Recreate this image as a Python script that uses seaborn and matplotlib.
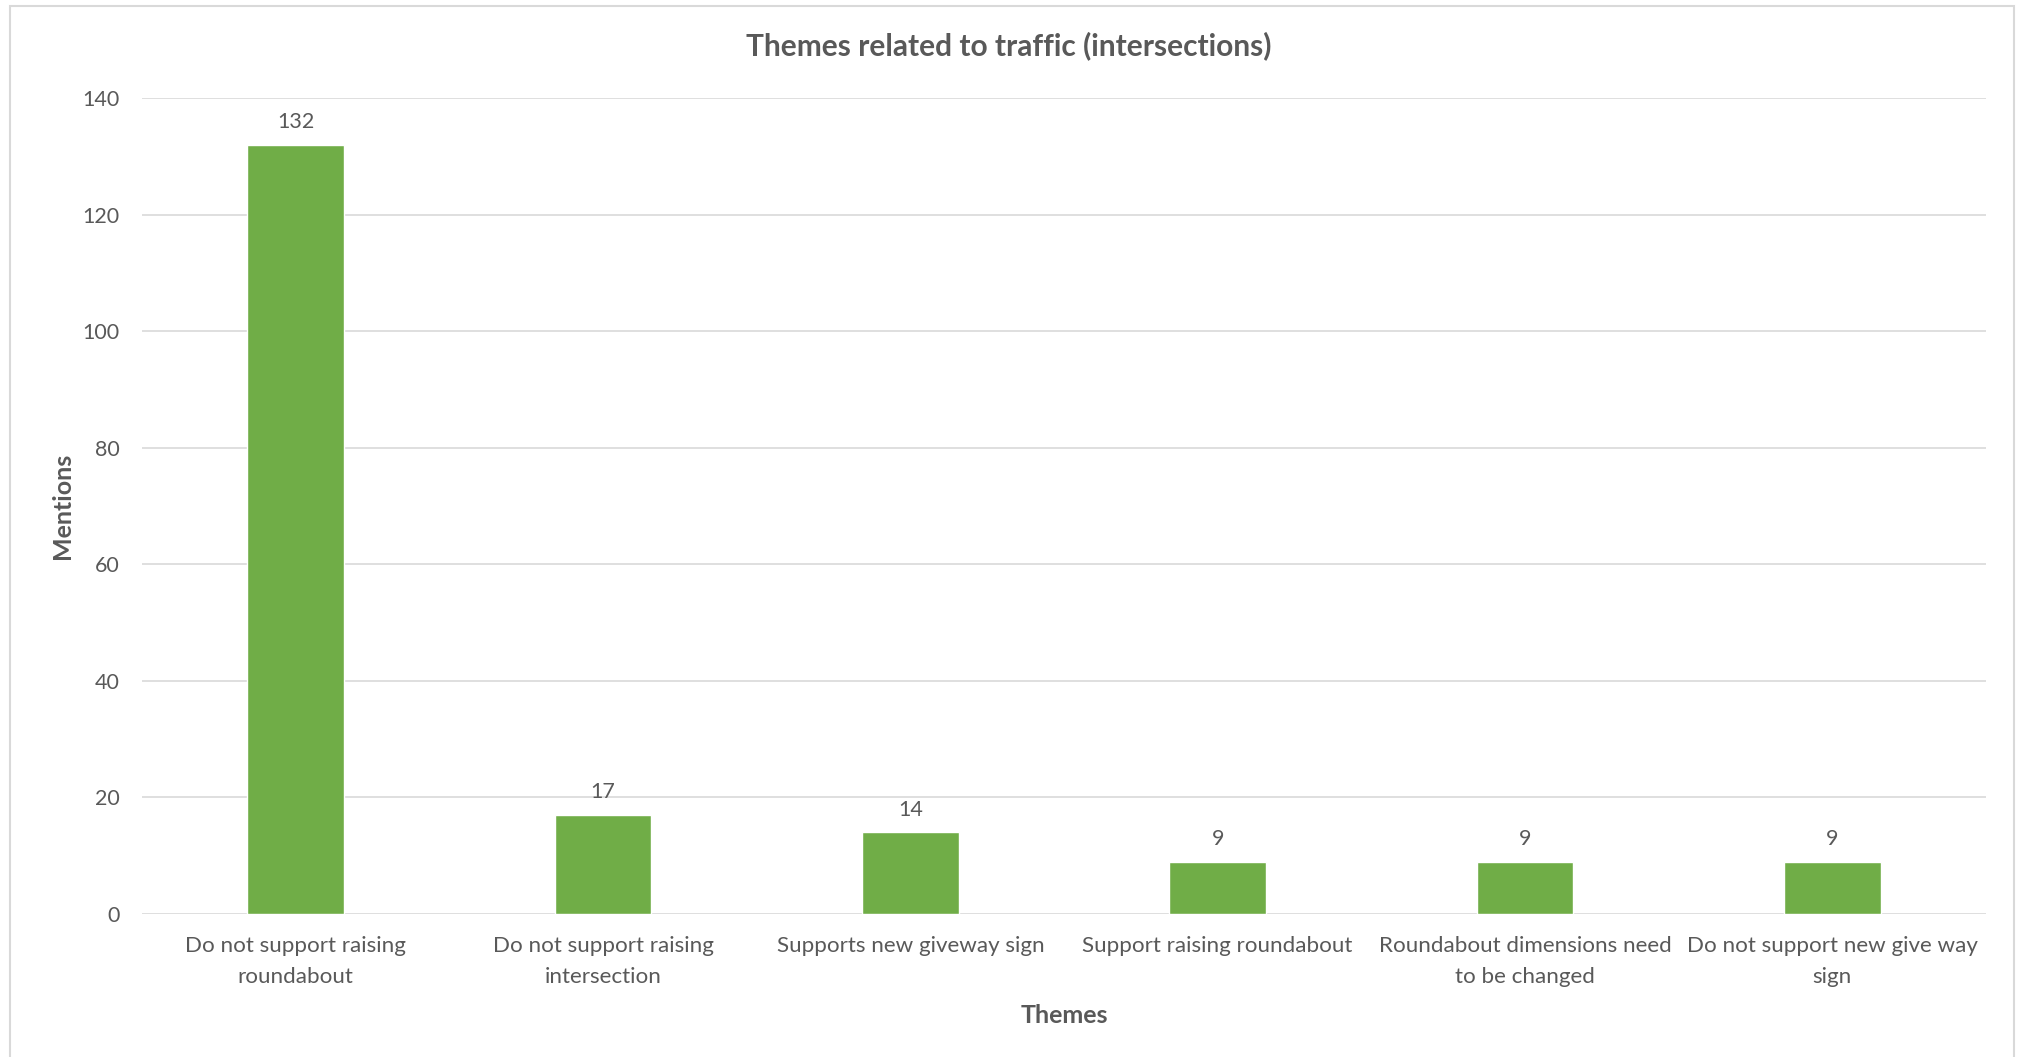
import pandas as pd
import matplotlib.pyplot as plt
import seaborn as sns
from matplotlib.patches import Rectangle

# dados do grafico
temas = ['Do not support raising\nroundabout',
         'Do not support raising\nintersection',
         'Supports new giveway sign',
         'Support raising roundabout',
         'Roundabout dimensions need\nto be changed',
         'Do not support new give way\nsign']
mencoes = [132, 17, 14, 9, 9, 9]
y_ticks = [0, 20, 40, 60, 80, 100, 120, 140]

cinza = '#595959'
verde = '#70AD47'
grade = '#D9D9D9'

sns.set_style('white')
plt.rcParams['font.family'] = ['Lato', 'DejaVu Sans']

dados = pd.DataFrame({'Themes': temas, 'Mentions': mencoes})

fig = plt.figure(figsize=(20.18, 10.57), dpi=100)
ax = fig.add_axes([142 / 2018, 1 - 914 / 1057, 1844 / 2018, 816 / 1057])

sns.barplot(dados, x='Themes', y='Mentions', color=verde, width=0.314,
            saturation=1, ax=ax, zorder=3)

# grade horizontal
ax.set_ylim(0, 140)
ax.set_yticks(y_ticks)
ax.grid(axis='y', color=grade, linewidth=1.2, zorder=0)
ax.set_axisbelow(True)
for s in ax.spines.values():
    s.set_visible(False)
ax.tick_params(axis='y', length=0, labelsize=15.5, labelcolor=cinza, pad=16)
ax.tick_params(axis='x', length=0, labelsize=16.1, labelcolor=cinza, pad=16)
for t in ax.get_xticklabels():
    t.set_linespacing(1.7)

# rotulos das barras
ax.bar_label(ax.containers[0], padding=9, fontsize=15.5, color=cinza)

ax.set_xlabel('Themes', fontsize=18, fontweight='bold', color=cinza)
ax.set_ylabel('Mentions', fontsize=18, fontweight='bold', color=cinza)
ax.xaxis.set_label_coords(0.5, -0.110)
ax.yaxis.set_label_coords(-0.037, 0.5)

fig.text(0.5, 1 - 46 / 1057, 'Themes related to traffic (intersections)',
         ha='center', va='center', fontsize=21.5, fontweight='bold', color=cinza)

# borda externa
fig.patches.append(Rectangle((10 / 2018, -0.05), 2004 / 2018, 1 - 6 / 1057 + 0.05,
                             transform=fig.transFigure, fill=False,
                             edgecolor=grade, linewidth=1.5))

fig.savefig('out.png', dpi=100)
